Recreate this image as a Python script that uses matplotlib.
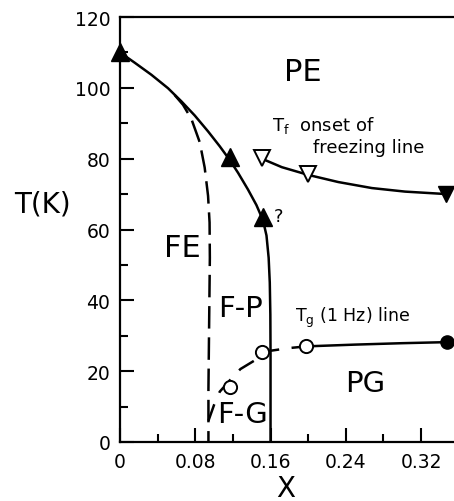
import matplotlib
matplotlib.use("Agg")
import matplotlib.pyplot as plt
from matplotlib.ticker import MultipleLocator

plt.rcParams['font.family'] = ['DejaVu Sans']
plt.rcParams['mathtext.fontset'] = 'dejavusans'

# Tc (ferroelectric) boundary, solid line
tc_x = [0, 0.0156, 0.0333, 0.051, 0.0652, 0.0794, 0.0936, 0.106, 0.1167, 0.1255,
        0.136, 0.145, 0.152, 0.1557, 0.158, 0.1592, 0.1598, 0.16, 0.16]
tc_T = [110, 107.1, 103.7, 99.9, 96.2, 92.2, 87.7, 83.5, 79.6, 76.0,
        71.3, 66.9, 62.6, 58.3, 52, 45, 36, 25, 0]
tc_mx = [0, 0.1167, 0.152]
tc_mT = [110, 80.6, 63.6]

# FE boundary, dashed
fe_x = [0.058, 0.067, 0.0759, 0.0848, 0.090, 0.0936, 0.0952, 0.0955, 0.0948, 0.094, 0.094]
fe_T = [98.0, 95.2, 91.2, 84.6, 77.5, 69.5, 62, 52, 35, 15, 0]

# Tf onset of freezing line
tf_x = [0.1507, 0.172, 0.2003, 0.232, 0.2677, 0.303, 0.347]
tf_T = [80.0, 77.6, 75.4, 73.4, 71.7, 70.7, 70.0]
tf_open_x = [0.1507, 0.2003]
tf_open_T = [80.2, 75.6]
tf_fill_x = [0.347]
tf_fill_T = [70.0]

# Tg (1 Hz) line
tg_dash_x = [0.094, 0.100, 0.106, 0.117, 0.128, 0.1454, 0.1507, 0.161, 0.179, 0.198]
tg_dash_T = [6, 10.5, 14.2, 17.5, 20.6, 23.4, 25.5, 25.8, 26.5, 27]
tg_solid_x = [0.198, 0.25, 0.30, 0.348]
tg_solid_T = [27, 27.5, 27.9, 28.2]
tg_open_x = [0.117, 0.1507, 0.198]
tg_open_T = [15.4, 25.5, 27.0]
tg_fill_x = [0.348]
tg_fill_T = [28.2]

xticks = [0, 0.08, 0.16, 0.24, 0.32]
xticklabels = ['0', '0.08', '0.16', '0.24', '0.32']
yticks = [0, 20, 40, 60, 80, 100, 120]

fig = plt.figure(figsize=(4.54, 5.02), dpi=100)
ax = fig.add_axes([120/454, 1-443/502, 1-120/454, (443-18)/502])
ax.set_xlim(0, 0.355)
ax.set_ylim(0, 120)

lw = 1.8
ax.plot(tc_x, tc_T, color='black', lw=lw, solid_capstyle='butt', solid_joinstyle='round')
ax.plot(fe_x, fe_T, color='black', lw=lw, dashes=(9, 3.5))
ax.plot(tf_x, tf_T, color='black', lw=lw, solid_joinstyle='round')
ax.plot(tg_dash_x, tg_dash_T, color='black', lw=lw, dashes=(7, 5))
ax.plot(tg_solid_x, tg_solid_T, color='black', lw=lw)

ax.plot(tc_mx, tc_mT, ls='none', marker='^', ms=12.5, color='black', clip_on=False, zorder=5)
ax.plot(tf_open_x, tf_open_T, ls='none', marker='v', ms=11, mfc='white', mec='black', mew=1.4, zorder=5)
ax.plot(tf_fill_x, tf_fill_T, ls='none', marker='v', ms=11.5, color='black', clip_on=False, zorder=5)
ax.plot(tg_open_x, tg_open_T, ls='none', marker='o', ms=9.5, mfc='white', mec='black', mew=1.4, zorder=5)
ax.plot(tg_fill_x, tg_fill_T, ls='none', marker='o', ms=9.5, color='black', clip_on=False, zorder=5)

# region labels
ax.text(0.1947, 104.5, 'PE', fontsize=22, ha='center', va='center')
ax.text(0.066, 55, 'FE', fontsize=22, ha='center', va='center')
ax.text(0.1277, 37.9, 'F-P', fontsize=21, ha='center', va='center')
ax.text(0.1298, 7.9, 'F-G', fontsize=21, ha='center', va='center')
ax.text(0.2606, 16.7, 'PG', fontsize=21, ha='center', va='center')
ax.text(0.168, 63.8, '?', fontsize=13, ha='center', va='center')

ax.text(0.1617, 88, r'T$_\mathregular{f}$  onset of', fontsize=13, ha='left', va='baseline')
ax.text(0.205, 82, 'freezing line', fontsize=13, ha='left', va='baseline')
ax.text(0.186, 34.2, r'T$_\mathregular{g}$ (1 Hz) line', fontsize=12.5, ha='left', va='baseline')

fig.text(42/454, 1-205/502, 'T(K)', fontsize=20, ha='center', va='center')
fig.text(286/454, 1-489/502, 'X', fontsize=20, ha='center', va='center')

ax.set_xticks(xticks)
ax.set_xticklabels(xticklabels)
ax.set_yticks(yticks)
ax.xaxis.set_minor_locator(MultipleLocator(0.04))
ax.yaxis.set_minor_locator(MultipleLocator(10))
ax.tick_params(which='both', direction='in', width=1.5, labelsize=13.5, top=False, right=False)
ax.tick_params(which='major', length=10, pad=7)
ax.tick_params(which='minor', length=6)
for s in ['left', 'bottom', 'top']:
    ax.spines[s].set_linewidth(1.6)
ax.spines['right'].set_visible(False)

fig.savefig('out.png', dpi=100)
